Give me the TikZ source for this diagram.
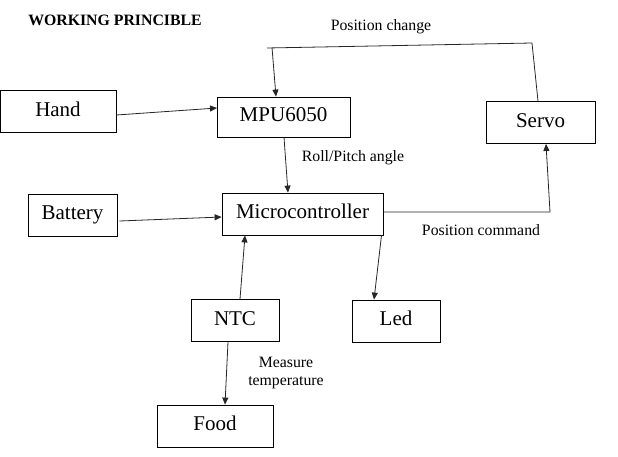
\documentclass[tikz,border=0pt]{standalone}
\usepackage{fontspec}
\setmainfont{Liberation Serif}
\usetikzlibrary{positioning,arrows.meta}

\begin{document}
\begin{tikzpicture}[
  x=1pt, y=-1pt,
  box/.style={draw, line width=0.8pt, minimum width=#1, minimum height=42pt, inner sep=0pt, text height=14.5pt, text depth=5.5pt, font=\fontsize{21}{25}\selectfont},
  lab/.style={font=\fontsize{15.8}{18}\selectfont, align=center},
  ln/.style={line width=0.8pt, black!85},
  arr/.style={ln, -{Triangle[length=7pt, width=6pt]}}
]
\useasboundingbox (0,0) rectangle (618,456);
\node[font=\fontsize{15.8}{18}\selectfont\bfseries] (title) at (115,20) {WORKING PRINCIBLE};
\node[box=116pt] (hand) at (58,111.5) {Hand};
\node[box=133pt, minimum height=40pt] (mpu) at (283.5,117) {MPU6050};
\node[box=109pt] (servo) at (540.5,122.5) {Servo};
\node[box=89pt] (bat) at (72.5,215) {Battery};
\node[box=161pt] (micro) at (302.5,214) {Microcontroller};
\node[box=88pt] (led) at (396,321) {Led};
\node[box=88pt] (ntc) at (235,320.5) {NTC};
\node[box=116pt] (food) at (215,426) {Food};
% texts on the links
\node[lab] (pchg) at (381,27) {Position change};
\node[lab] (roll) at (353,158) {Roll/Pitch angle};
\node[lab] (pcmd) at (481,230) {Position command};
\node[lab] (meas) at (286,373) {Measure\\temperature};
% corners of the bent links
\coordinate (fbR) at (532,43);
\coordinate (fbL) at (267,48);
\coordinate (fbD) at (272,47.5);
\coordinate (cmdR) at (550,212);
\draw[arr] (hand.east |- 0,115) -- (217,108);
\draw[ln] ([xshift=-2.5pt]servo.north) -- (fbR) -- (fbL);
\draw[arr] (fbD) -- ([xshift=-7.5pt]mpu.north);
\draw[arr] ([xshift=0.5pt]mpu.south) -- ([xshift=-14.5pt]micro.north);
\draw[arr] ([xshift=2pt]bat.east |- 0,221) -- (micro.west |- 0,217);
\draw[arr] ([xshift=5pt]ntc.north) -- ([xshift=-57.5pt]micro.south);
\draw[arr] (micro.east |- 0,212) -- (cmdR) -- ([xshift=5.5pt]servo.south);
\draw[arr] ([xshift=-14.5pt]micro.south -| led.north) -- ([xshift=-22pt]led.north);
\draw[arr] ([xshift=-7pt]ntc.south) -- ([xshift=10pt]food.north);
\end{tikzpicture}
\end{document}
